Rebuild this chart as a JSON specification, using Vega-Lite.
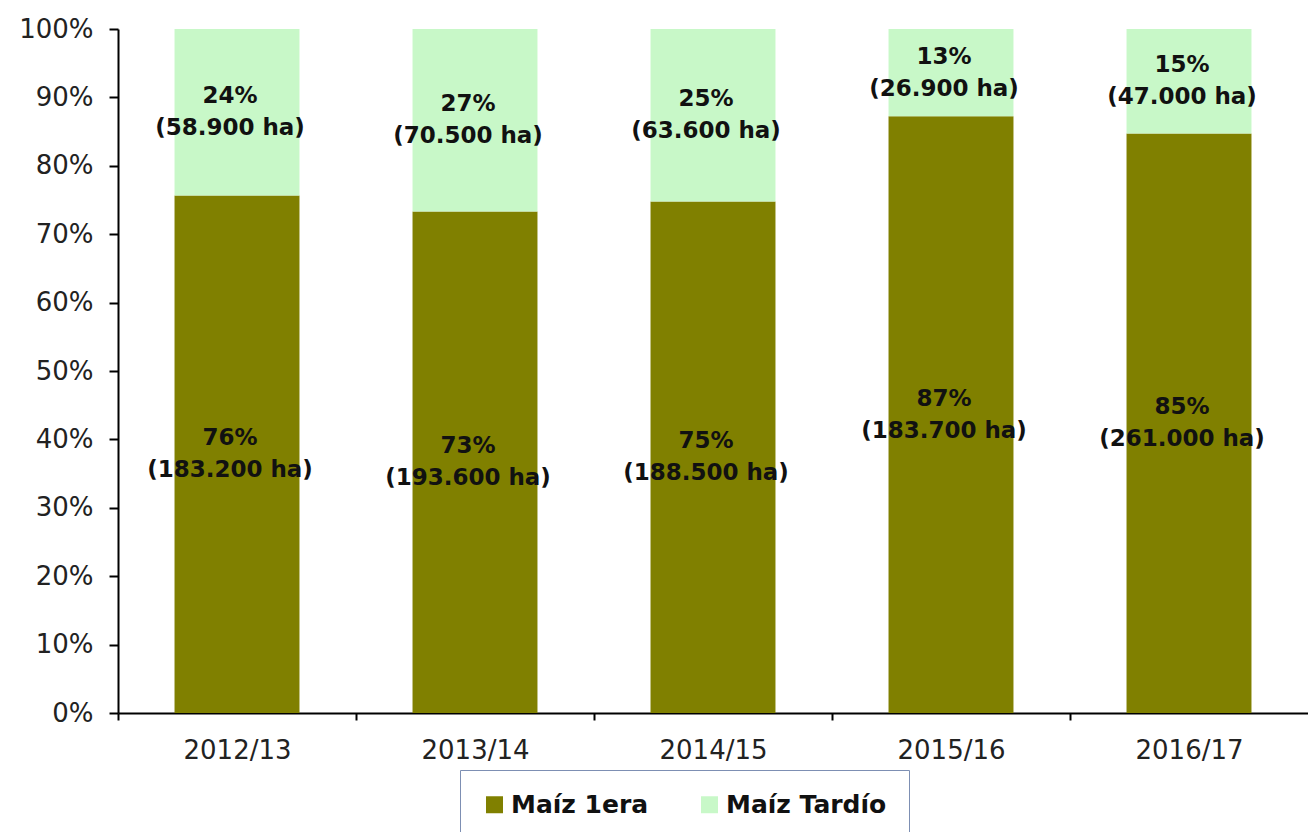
{
  "$schema": "https://vega.github.io/schema/vega-lite/v6.json",
  "width": 1190,
  "height": 684,
  "autosize": {"type": "none"},
  "padding": {"left": 118, "top": 29, "right": 0, "bottom": 119},
  "background": "white",
  "config": {"view": {"stroke": null}, "font": "DejaVu Sans"},
  "data": {
    "values": [
      {"campana": "2012/13", "serie": "Maíz 1era", "ha": 183200, "pct": 76, "haText": "183.200"},
      {"campana": "2012/13", "serie": "Maíz Tardío", "ha": 58900, "pct": 24, "haText": "58.900"},
      {"campana": "2013/14", "serie": "Maíz 1era", "ha": 193600, "pct": 73, "haText": "193.600"},
      {"campana": "2013/14", "serie": "Maíz Tardío", "ha": 70500, "pct": 27, "haText": "70.500"},
      {"campana": "2014/15", "serie": "Maíz 1era", "ha": 188500, "pct": 75, "haText": "188.500"},
      {"campana": "2014/15", "serie": "Maíz Tardío", "ha": 63600, "pct": 25, "haText": "63.600"},
      {"campana": "2015/16", "serie": "Maíz 1era", "ha": 183700, "pct": 87, "haText": "183.700"},
      {"campana": "2015/16", "serie": "Maíz Tardío", "ha": 26900, "pct": 13, "haText": "26.900"},
      {"campana": "2016/17", "serie": "Maíz 1era", "ha": 261000, "pct": 85, "haText": "261.000"},
      {"campana": "2016/17", "serie": "Maíz Tardío", "ha": 47000, "pct": 15, "haText": "47.000"}
    ]
  },
  "transform": [
    {"stack": "ha", "groupby": ["campana"], "offset": "normalize", "sort": [{"field": "serie", "order": "ascending"}], "as": ["y0", "y1"]},
    {"calculate": "(datum.y0 + datum.y1) / 2", "as": "ymid"},
    {"calculate": "datum.pct + '%\\n(' + datum.haText + ' ha)'", "as": "label"}
  ],
  "encoding": {
    "x": {
      "field": "campana",
      "type": "nominal",
      "scale": {"paddingInner": 0.475, "paddingOuter": 0.2375},
      "axis": {
        "title": null,
        "labelAngle": 0,
        "bandPosition": 0,
        "tickOffset": -56.5,
        "labelOffset": 56.5,
        "tickSize": 7,
        "tickWidth": 2,
        "tickColor": "#000000",
        "domainColor": "#000000",
        "domainWidth": 2,
        "labelPadding": 17,
        "labelFontSize": 26,
        "labelColor": "#222222",
        "labelFont": "DejaVu Sans"
      }
    }
  },
  "layer": [
    {
      "mark": {"type": "bar"},
      "encoding": {
        "y": {
          "field": "y1",
          "type": "quantitative",
          "scale": {"domain": [0, 1], "nice": false},
          "axis": {
            "title": null,
            "values": [0, 0.1, 0.2, 0.3, 0.4, 0.5, 0.6, 0.7, 0.8, 0.9, 1],
            "format": ".0%",
            "grid": false,
            "tickSize": 9,
            "tickWidth": 2,
            "tickColor": "#000000",
            "domainColor": "#000000",
            "domainWidth": 2,
            "labelPadding": 16,
            "labelFontSize": 26,
            "labelColor": "#222222",
            "labelFont": "DejaVu Sans"
          }
        },
        "y2": {"field": "y0"},
        "color": {
          "field": "serie",
          "type": "nominal",
          "scale": {"domain": ["Maíz 1era", "Maíz Tardío"], "range": ["#808000", "#c8f8c8"]},
          "legend": {
            "title": null,
            "orient": "none",
            "legendX": 342,
            "legendY": 741,
            "direction": "horizontal",
            "strokeColor": "#7d8fb3",
            "fillColor": "#ffffff",
            "padding": 22,
            "symbolType": "square",
            "symbolSize": 289,
            "symbolStrokeWidth": 0,
            "labelFontSize": 25,
            "labelFontWeight": "bold",
            "labelFont": "DejaVu Sans",
            "labelColor": "#111111",
            "labelLimit": 400,
            "labelOffset": 4,
            "columnPadding": 48
          }
        }
      }
    },
    {
      "mark": {"type": "text", "lineBreak": "\n", "fontSize": 23, "fontWeight": "bold", "font": "DejaVu Sans", "color": "#111111", "lineHeight": 32, "baseline": "middle", "dx": -7, "dy": -16},
      "encoding": {
        "y": {"field": "ymid", "type": "quantitative"},
        "text": {"field": "label", "type": "nominal"}
      }
    }
  ]
}
